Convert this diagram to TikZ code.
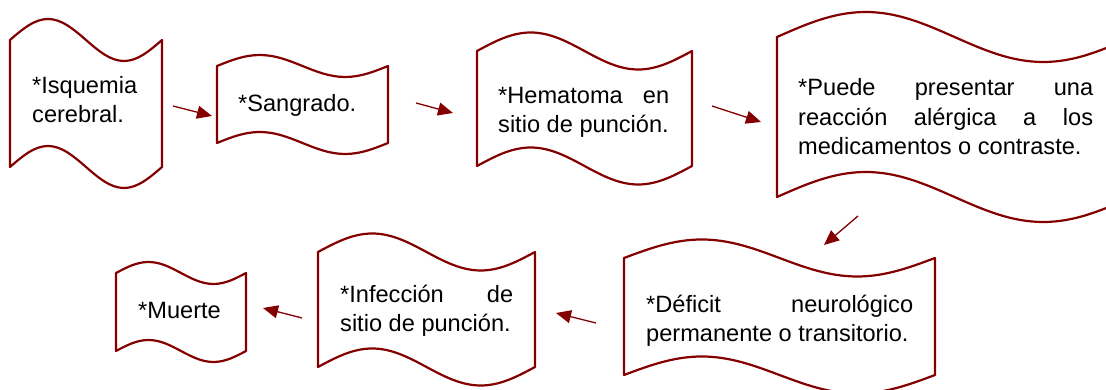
\documentclass[tikz,border=0pt]{standalone}
\usepackage{fontspec}
\setmainfont{Liberation Sans}
\usetikzlibrary{arrows.meta}
\definecolor{dred}{RGB}{132,0,0}
\tikzset{
  wave/.style={draw=dred, line width=2.2pt, fill=white, line join=round},
  txt/.style={inner sep=0pt, anchor=base west, align=left, text=black,
    font=\fontsize{23.6pt}{29.5pt}\selectfont},
  arr/.style={draw=dred, line width=1.3pt, -{Triangle[length=15pt,width=13pt]}, fill=dred}
}
% name, left, right, top corner (px from top), bottom corner (px from top), amplitude
\newcommand\wavebox[6]{%
  \pgfmathsetmacro\wbq{(#3-#2)/4}%
  \pgfmathsetmacro\wbt{390-#4}%
  \pgfmathsetmacro\wbb{390-#5}%
  \draw[wave] (#2,\wbt) coordinate (#1)
    sin ({#2+\wbq},{\wbt+#6}) cos ({#2+2*\wbq},\wbt)
    sin ({#2+3*\wbq},{\wbt-#6}) cos (#3,\wbt)
    -- (#3,\wbb)
    sin ({#3-\wbq},{\wbb-#6}) cos ({#3-2*\wbq},\wbb)
    sin ({#3-3*\wbq},{\wbb+#6}) cos (#2,\wbb)
    -- cycle;%
}
\begin{document}
\begin{tikzpicture}[x=1pt,y=1pt]
\useasboundingbox (0,0) rectangle (1106,390);

\wavebox{b1}{10}{162}{40}{167}{21}
\wavebox{b2}{217}{388}{66}{143}{11}
\wavebox{b3}{477}{692}{51}{166}{18.5}
\wavebox{b4}{777}{1132}{37}{197}{25}
\wavebox{b5}{624}{935}{258}{375}{18.5}
\wavebox{b6}{318}{535}{252}{367}{18.5}
\wavebox{b7}{116}{246}{273}{351}{11}

\node[txt] (t1) at (32,267) {*Isquemia\\cerebral.};
\node[txt] (t2) at (238,278) {*Sangrado.};
\node[txt] (t3) at (498,257) {\makebox[171pt][s]{*Hematoma en}\\sitio de punción.};
\node[txt] (t4) at (798,235) {\makebox[295pt][s]{*Puede presentar una}\\\makebox[295pt][s]{reacción alérgica a los}\\medicamentos o contraste.};
\node[txt] (t5) at (646,48) {\makebox[267pt][s]{*Déficit neurológico}\\permanente o transitorio.};
\node[txt] (t6) at (340,58) {\makebox[173pt][s]{*Infección de}\\sitio de punción.};
\node[txt] (t7) at (138,71) {*Muerte};

\coordinate (a1s) at (173,284); \coordinate (a1e) at (212,274);
\coordinate (a2s) at (416,287); \coordinate (a2e) at (453,277);
\coordinate (a3s) at (712,284); \coordinate (a3e) at (761,268);
\coordinate (a4s) at (858,174); \coordinate (a4e) at (824,145);
\coordinate (a5s) at (596,67);  \coordinate (a5e) at (556,77);
\coordinate (a6s) at (302,72);  \coordinate (a6e) at (263,82);

\draw[arr] (a1s) -- (a1e);
\draw[arr] (a2s) -- (a2e);
\draw[arr] (a3s) -- (a3e);
\draw[arr] (a4s) -- (a4e);
\draw[arr] (a5s) -- (a5e);
\draw[arr] (a6s) -- (a6e);
\end{tikzpicture}
\end{document}
